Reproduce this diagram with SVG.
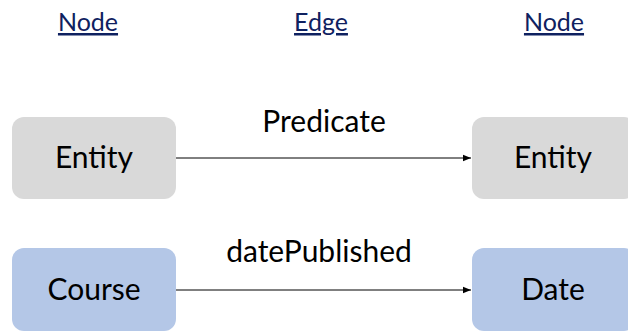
<svg xmlns="http://www.w3.org/2000/svg" width="628" height="333" viewBox="0 0 628 333">
<style>
.hdr{font-family:Lato,"Liberation Sans",sans-serif;font-size:25px;fill:#0f2160;text-anchor:middle;text-decoration:underline}
.lbl{font-family:Lato,"Liberation Sans",sans-serif;font-size:30px;fill:#000;text-anchor:middle}
.grey{fill:#d9d9d9}
.blue{fill:#b4c7e7}
.edge{stroke:#000;stroke-width:1;fill:none;marker-end:url(#arr)}
</style>
<defs>
<marker id="arr" viewBox="0 0 10 10" refX="10" refY="5" markerWidth="8" markerHeight="8" markerUnits="userSpaceOnUse" orient="auto">
<path d="M0,1 L10,5 L0,9 z" fill="#000"/>
</marker>
</defs>
<rect width="628" height="333" fill="#fff"/>
<g id="headers">
<text class="hdr" x="88" y="31">Node</text>
<text class="hdr" x="321" y="31">Edge</text>
<text class="hdr" x="554" y="31">Node</text>
</g>
<g id="connectors">
<line class="edge" x1="176" y1="158" x2="471" y2="158"/>
<text class="lbl" x="324" y="132">Predicate</text>
<line class="edge" x1="176" y1="290" x2="471" y2="290"/>
<text class="lbl" x="319" y="262">datePublished</text>
</g>
<g id="n-entity1">
<rect class="grey" x="12" y="117" width="164" height="82" rx="12"/>
<text class="lbl" x="94" y="168">Entity</text>
</g>
<g id="n-entity2">
<rect class="grey" x="472" y="117" width="164" height="82" rx="12"/>
<text class="lbl" x="553" y="168">Entity</text>
</g>
<g id="n-course">
<rect class="blue" x="12" y="248" width="164" height="83" rx="12"/>
<text class="lbl" x="94" y="300">Course</text>
</g>
<g id="n-date">
<rect class="blue" x="472" y="248" width="164" height="83" rx="12"/>
<text class="lbl" x="553" y="300">Date</text>
</g>
</svg>
